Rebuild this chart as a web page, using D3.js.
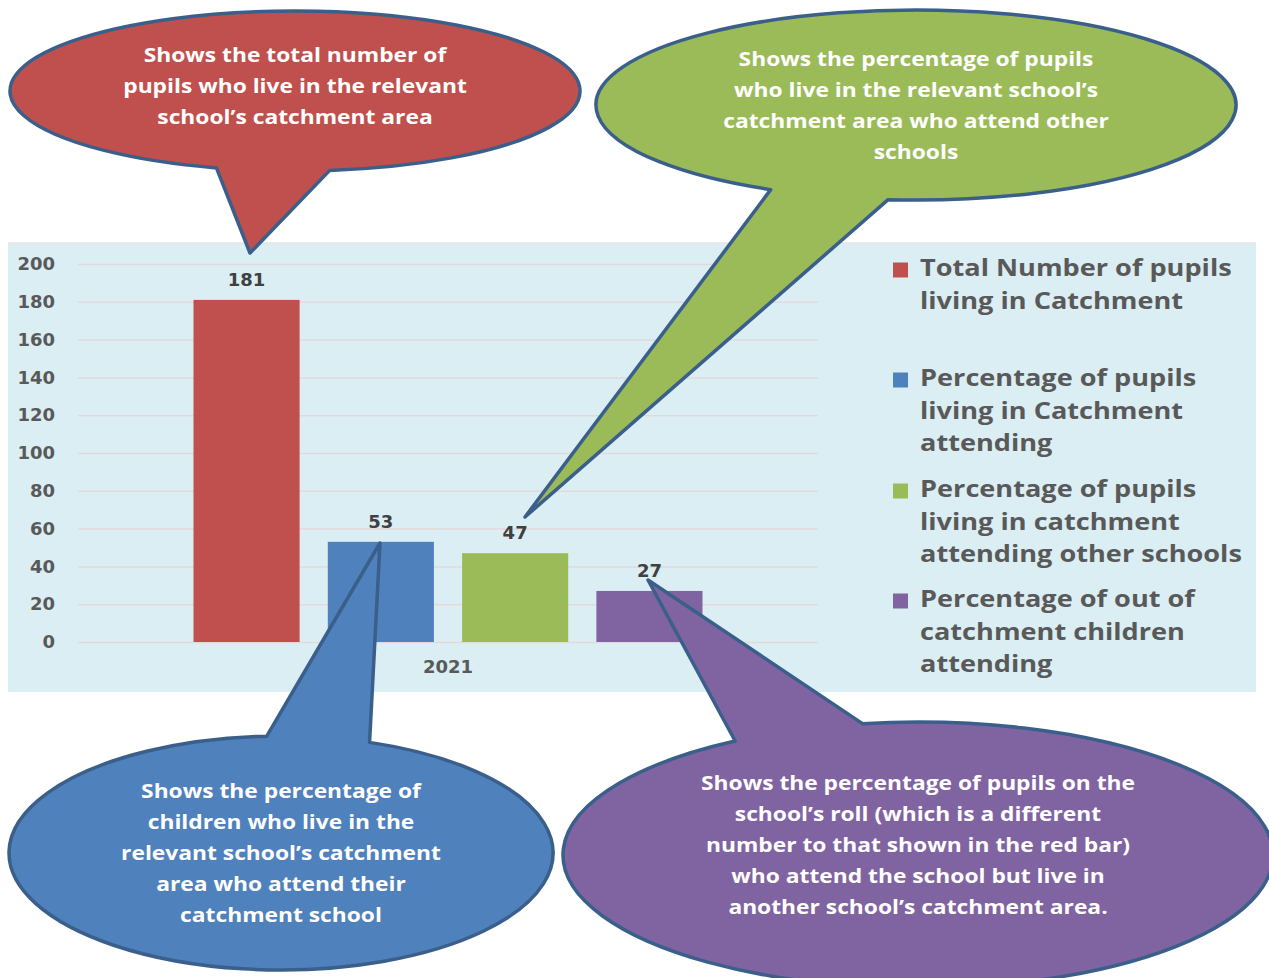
<!DOCTYPE html>
<html>
<head>
<meta charset="utf-8">
<script src="https://cdn.jsdelivr.net/npm/d3@7"></script>
<style>
  body { margin: 0; background: #fff; }
  svg { display: block; }
</style>
</head>
<body>
<svg id="chart" width="1269" height="978"></svg>
<script>
// data
const category = "2021";
const seriesNames = [
  "Total Number of pupils living in Catchment",
  "Percentage of pupils living in Catchment attending",
  "Percentage of pupils living in catchment attending other schools",
  "Percentage of out of catchment children attending"
];
const seriesValues = [181, 53, 47, 27];
const seriesColors = ["#C0504D", "#4F81BD", "#9BBB59", "#8064A2"];
const yTicks = [0, 20, 40, 60, 80, 100, 120, 140, 160, 180, 200];
const legendLines = [
  ["Total Number of pupils", "living in Catchment"],
  ["Percentage of pupils", "living in Catchment", "attending"],
  ["Percentage of pupils", "living in catchment", "attending other schools"],
  ["Percentage of out of", "catchment children", "attending"]
];
const calloutText = [
  ["Shows the total number of", "pupils who live in the relevant", "school\u2019s catchment area"],
  ["Shows the percentage of", "children who live in the", "relevant school\u2019s catchment", "area who attend their", "catchment school"],
  ["Shows the percentage of pupils", "who live in the relevant school\u2019s", "catchment area who attend other", "schools"],
  ["Shows the percentage of pupils on the", "school\u2019s roll (which is a different", "number to that shown in the red bar)", "who attend the school but live in", "another school\u2019s catchment area."]
];

const svg = d3.select("#chart");
const textGray = "#595959";
const numFont = "'DejaVu Sans', Verdana, sans-serif";
const txtFont = "'Open Sans', sans-serif";

// panel
svg.append("rect")
  .attr("x", 8).attr("y", 243).attr("width", 1248).attr("height", 449)
  .attr("fill", "#DAEEF3");
svg.append("line")
  .attr("x1", 8).attr("x2", 1256).attr("y1", 243).attr("y2", 243)
  .attr("stroke", "#e4e4e4").attr("stroke-width", 1.5);

const plotL = 78, plotR = 818;
const y = d3.scaleLinear().domain([0, 200]).range([642, 264]);
const x0 = d3.scaleBand().domain([category]).range([plotL, plotR]);
const x1 = d3.scaleBand().domain(seriesNames)
  .range([0, x0.bandwidth()]).paddingInner(0.21).paddingOuter(0.86);

// gridlines
svg.append("g")
  .attr("transform", `translate(${plotL},0)`)
  .call(d3.axisLeft(y).tickValues(yTicks).tickSize(-(plotR - plotL)).tickFormat(""))
  .call(g => g.select(".domain").remove())
  .call(g => g.selectAll(".tick line").attr("stroke", "#E3D9DC").attr("stroke-width", 1.5));

// y labels
svg.append("g")
  .attr("transform", `translate(${plotL},0)`)
  .call(d3.axisLeft(y).tickValues(yTicks).tickSize(0).tickPadding(23))
  .call(g => g.select(".domain").remove())
  .call(g => g.selectAll("text")
    .attr("fill", textGray).attr("font-family", numFont)
    .attr("font-weight", "bold").attr("font-size", 18));

// bars
const bars = seriesNames.map((s, i) => ({ name: s, value: seriesValues[i], color: seriesColors[i] }));
const barG = svg.append("g").attr("transform", `translate(${x0(category)},0)`);
barG.selectAll("rect").data(bars).enter().append("rect")
  .attr("x", d => x1(d.name))
  .attr("width", x1.bandwidth())
  .attr("y", d => y(d.value))
  .attr("height", d => y(0) - y(d.value))
  .attr("fill", d => d.color);

// category label
svg.append("text")
  .attr("x", x0(category) + x0.bandwidth() / 2).attr("y", 668)
  .attr("text-anchor", "middle").attr("dominant-baseline", "middle")
  .attr("fill", textGray).attr("font-family", numFont)
  .attr("font-weight", "bold").attr("font-size", 18)
  .text(category);

// legend (text a bit wide, like the original)
const legendTop = [270, 380, 491, 601];
const leg = svg.append("g");
legendLines.forEach((lines, i) => {
  leg.append("rect")
    .attr("x", 893).attr("y", legendTop[i] - 7.5).attr("width", 15).attr("height", 15)
    .attr("fill", seriesColors[i]);
  const t = leg.append("text")
    .attr("transform", "translate(920,0) scale(1.155,1)")
    .attr("font-family", txtFont).attr("font-weight", 700).attr("font-size", 23.5)
    .attr("fill", textGray);
  lines.forEach((ln, k) => {
    t.append("tspan").attr("x", 0).attr("y", legendTop[i] + k * 32.3)
      .attr("dominant-baseline", "middle").text(ln);
  });
});

// callouts
const callouts = [
  { cx: 295, cy: 91, rx: 285, ry: 80, tA: 83, tB: 106, tip: [250, 253], fill: seriesColors[0],
    lines: calloutText[0], ty: 57, lh: 31 },
  { cx: 281, cy: 853, rx: 272, ry: 117, tA: 267, tB: 289, tip: [380, 543], fill: seriesColors[1],
    lines: calloutText[1], ty: 793, lh: 31 },
  { cx: 916, cy: 105, rx: 320, ry: 95, tA: 95, tB: 117, tip: [525, 517], fill: seriesColors[2],
    lines: calloutText[2], ty: 61, lh: 31 },
  { cx: 918, cy: 855, rx: 355, ry: 133, tA: 239, tB: 261, tip: [648, 580], fill: seriesColors[3],
    lines: calloutText[3], ty: 785, lh: 31 }
];

function pt(c, deg) {
  const t = deg * Math.PI / 180;
  return [c.cx + c.rx * Math.cos(t), c.cy + c.ry * Math.sin(t)];
}

const cg = svg.append("g");
callouts.forEach(c => {
  const a = pt(c, c.tA), b = pt(c, c.tB);
  const p = `M${b[0]},${b[1]} A${c.rx},${c.ry} 0 1 1 ${a[0]},${a[1]} L${c.tip[0]},${c.tip[1]} Z`;
  cg.append("path").attr("d", p)
    .attr("fill", c.fill).attr("stroke", "#3A5F8B").attr("stroke-width", 3.5)
    .attr("stroke-linejoin", "round");
  const t = cg.append("text")
    .attr("transform", `translate(${c.cx},0) scale(1.2,1)`)
    .attr("text-anchor", "middle").attr("fill", "#fff")
    .attr("font-family", txtFont).attr("font-weight", 700).attr("font-size", 19);
  c.lines.forEach((ln, k) => {
    t.append("tspan").attr("x", 0).attr("y", c.ty + k * c.lh)
      .attr("dominant-baseline", "middle").text(ln);
  });
});

// value labels
svg.append("g").attr("transform", `translate(${x0(category)},0)`)
  .selectAll("text").data(bars).enter().append("text")
  .attr("x", d => x1(d.name) + x1.bandwidth() / 2)
  .attr("y", d => y(d.value) - 19)
  .attr("text-anchor", "middle").attr("dominant-baseline", "middle")
  .attr("fill", "#404040").attr("font-family", numFont)
  .attr("font-weight", "bold").attr("font-size", 18)
  .text(d => d.value);
</script>
</body>
</html>
